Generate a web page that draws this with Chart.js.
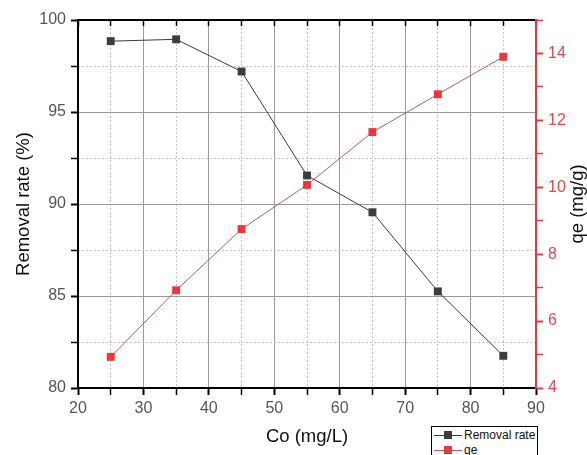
<!DOCTYPE html>
<html>
<head>
<meta charset="utf-8">
<script src="https://cdn.jsdelivr.net/npm/chart.js@4"></script>
<style>
  html, body { margin: 0; padding: 0; background: #fff; overflow: hidden; }
  #wrap { position: relative; width: 587px; height: 455px; }
  #legend {
    position: absolute; left: 431px; top: 426px; width: 107px; height: 34px;
    border: 1px solid #000; background: #fff; box-sizing: border-box;
    font-family: "Liberation Sans", Arial, sans-serif; font-size: 12px; color: #111;
  }
  .item { position: absolute; left: 2px; height: 14px; display: flex; align-items: center; }
  .sample { position: relative; width: 28px; height: 14px; margin-right: 2px; }
  .sample .ln { position: absolute; left: 0; right: 0; top: 7px; height: 1px; }
  .sample .mk { position: absolute; left: 10px; top: 3px; width: 8px; height: 8px; }
</style>
</head>
<body>
<div id="wrap">
  <canvas id="c" width="587" height="455"></canvas>
  <div id="legend"></div>
</div>
<script>
// ---- data ----
const concentrations = [25, 35, 45, 55, 65, 75, 85];
const removalRate = [98.85, 98.95, 97.2, 91.55, 89.55, 85.25, 81.75];
const qeValues = [4.93, 6.92, 8.75, 10.07, 11.65, 12.78, 13.9];
const seriesNames = ['Removal rate', 'qe'];
const xTitle = 'Co (mg/L)';
const yTitle = 'Removal rate (%)';
const y1Title = 'qe (mg/g)';
const xMinorTicks = [25, 35, 45, 55, 65, 75, 85];
const yMinorTicks = [82.5, 87.5, 92.5, 97.5];

const RED = '#e8383d';
const FONT = '"Liberation Sans", Arial, sans-serif';
const TITLE_SIZE = 18.5;
const TICK_SIZE = 16;

const rightTitlePlugin = {
  id: 'rightTitle',
  afterDraw(chart) {
    const s = chart.scales.y1;
    const ctx = chart.ctx;
    ctx.save();
    ctx.translate(s.right - 9, (chart.chartArea.top + chart.chartArea.bottom) / 2);
    ctx.rotate(-Math.PI / 2);
    ctx.font = TITLE_SIZE + 'px ' + FONT;
    ctx.fillStyle = '#111';
    ctx.textAlign = 'center';
    ctx.textBaseline = 'middle';
    ctx.fillText(y1Title, 0, 0);
    ctx.restore();
  }
};

const gridMajor = '#9a9a9a';
const gridMinor = '#c4c4c4';

const chart = new Chart(document.getElementById('c'), {
  type: 'line',
  data: {
    datasets: [
      {
        label: seriesNames[0],
        data: concentrations.map((c, i) => ({ x: c, y: removalRate[i] })),
        xAxisID: 'x', yAxisID: 'y',
        borderColor: '#3a3a3a', borderWidth: 1,
        pointStyle: 'rect', pointRadius: 5.6, pointBorderWidth: 0,
        pointBackgroundColor: '#3d3d3d', backgroundColor: '#3d3d3d',
        tension: 0, fill: false
      },
      {
        label: seriesNames[1],
        data: concentrations.map((c, i) => ({ x: c, y: qeValues[i] })),
        xAxisID: 'x', yAxisID: 'y1',
        borderColor: '#b85c5c', borderWidth: 1,
        pointStyle: 'rect', pointRadius: 5.6, pointBorderWidth: 0,
        pointBackgroundColor: RED, backgroundColor: RED,
        tension: 0, fill: false
      }
    ]
  },
  options: {
    responsive: false,
    animation: false,
    layout: { padding: 0 },
    plugins: { legend: { display: false }, tooltip: { enabled: false } },
    scales: {
      x: {
        type: 'linear', position: 'bottom', min: 20, max: 90,
        ticks: {
          stepSize: 5, autoSkip: false, maxRotation: 0, padding: 4,
          color: '#555', font: { size: TICK_SIZE, family: FONT },
          callback: v => (v % 10 === 0 ? v : '')
        },
        grid: {
          color: c => (c.tick && c.tick.value % 10 === 0) ? gridMajor : 'rgba(0,0,0,0)',
          tickColor: '#000', tickLength: 7,
          tickWidth: c => (c.tick && c.tick.value % 10 === 0) ? 2 : 1.5,
          lineWidth: 1
        },
        border: { color: '#000', width: 2 },
        title: { display: true, text: xTitle, color: '#111', font: { size: TITLE_SIZE, family: FONT }, padding: { top: 0, bottom: 7 } },
        afterFit: s => { s.height = 67; }
      },
      xMinor: {
        type: 'linear', position: 'bottom', min: 20, max: 90,
        afterBuildTicks: s => { s.ticks = xMinorTicks.map(v => ({ value: v })); },
        ticks: { display: false },
        grid: { color: gridMinor, drawTicks: false, lineWidth: 1 },
        border: { display: false, dash: [2, 2] },
        afterFit: s => { s.height = 0; }
      },
      xTop: {
        type: 'linear', position: 'top', min: 20, max: 90,
        ticks: { display: false, stepSize: 5 },
        grid: { drawOnChartArea: false, drawTicks: true, tickLength: -6, tickColor: '#000', tickWidth: 1.5, color: '#000' },
        border: { color: '#000', width: 2 },
        afterFit: s => { s.height = 20; }
      },
      y: {
        type: 'linear', position: 'left', min: 80, max: 100,
        ticks: {
          stepSize: 2.5, autoSkip: false, padding: 5,
          color: '#555', font: { size: TICK_SIZE, family: FONT },
          callback: v => (v % 5 === 0 ? v : '')
        },
        grid: {
          color: c => (c.tick && c.tick.value % 5 === 0) ? gridMajor : 'rgba(0,0,0,0)',
          tickColor: '#000', tickLength: 7,
          tickWidth: c => (c.tick && c.tick.value % 5 === 0) ? 2 : 1.5,
          lineWidth: 1
        },
        border: { color: '#000', width: 2 },
        title: { display: true, text: yTitle, color: '#111', font: { size: TITLE_SIZE, family: FONT }, padding: { top: 13, bottom: 0 } },
        afterFit: s => { s.width = 78; }
      },
      yMinor: {
        type: 'linear', position: 'left', min: 80, max: 100,
        afterBuildTicks: s => { s.ticks = yMinorTicks.map(v => ({ value: v })); },
        ticks: { display: false },
        grid: { color: gridMinor, drawTicks: false, lineWidth: 1 },
        border: { display: false, dash: [2, 2] },
        afterFit: s => { s.width = 0; }
      },
      y1: {
        type: 'linear', position: 'right', min: 4, max: 15,
        ticks: {
          stepSize: 1, autoSkip: false, padding: 5,
          color: '#e24a4a', font: { size: TICK_SIZE, family: FONT },
          callback: v => (v % 2 === 0 ? v : '')
        },
        grid: {
          drawOnChartArea: false, tickColor: RED, tickLength: 7,
          tickWidth: c => (c.tick && c.tick.value % 2 === 0) ? 2 : 1.5
        },
        border: { color: RED, width: 2 },
        afterFit: s => { s.width = 51; }
      }
    }
  },
  plugins: [rightTitlePlugin]
});

// HTML legend built from the chart's datasets
const legend = document.getElementById('legend');
chart.data.datasets.forEach((ds, i) => {
  const item = document.createElement('div');
  item.className = 'item';
  item.style.top = (i === 0 ? 1 : 16) + 'px';
  item.innerHTML = '<span class="sample"><span class="ln" style="background:' + ds.borderColor +
    '"></span><span class="mk" style="background:' + ds.pointBackgroundColor + '"></span></span><span>' +
    ds.label + '</span>';
  legend.appendChild(item);
});
</script>
</body>
</html>
